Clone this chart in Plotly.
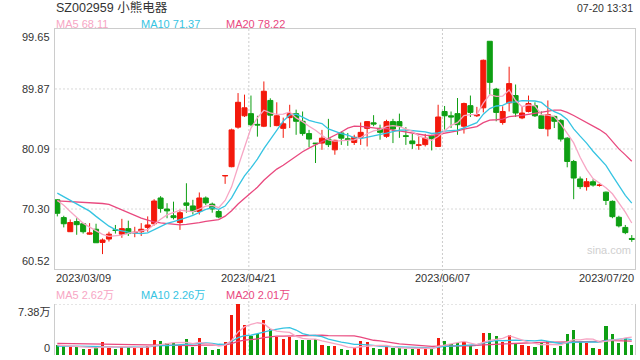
import plotly.graph_objects as go
import pandas as pd

# ---------------- data ----------------
opens = [71.8, 68.9, 66.6, 68.25, 67.9, 66.2, 67.0, 64.85, 65.4, 66.9,
         66.2, 67.1, 66.4, 66.6, 67.3, 67.9, 72.1, 70.3, 69.2, 68.1,
         71.3, 70.8, 69.9, 72.1, 71.1, 69.9, 75.7, 77.2, 83.65, 85.5,
         85.85, 84.1, 83.8, 88.0, 83.9, 83.45, 85.2, 85.85, 84.6, 82.6,
         81.05, 81.05, 81.7, 79.95, 82.7, 81.75, 81.15, 82.0, 83.45, 84.35,
         83.45, 82.15, 84.55, 84.55, 82.25, 81.4, 80.7, 80.8, 82.25, 80.5,
         86.2, 85.5, 85.85, 83.8, 87.15, 85.5, 86.8, 97.65, 89.85, 84.4,
         87.6, 88.8, 85.15, 86.2, 87.15, 85.5, 83.35, 85.4, 84.75, 81.85,
         78.05, 75.2, 73.95, 74.75, 74.15, 73.05, 71.55, 68.95, 67.3, 65.5]
highs = [71.9, 69.2, 68.6, 68.8, 67.9, 68.0, 67.9, 65.5, 66.6, 67.7,
         68.7, 68.4, 67.4, 68.0, 69.1, 71.9, 72.4, 71.25, 71.5, 70.2,
         74.5, 71.8, 73.0, 72.35, 71.35, 70.15, 75.75, 83.4, 89.2, 88.95,
         88.8, 85.5, 91.1, 88.35, 87.7, 85.2, 87.3, 86.5, 86.2, 83.2,
         81.05, 83.2, 85.0, 81.6, 82.95, 82.7, 82.4, 84.4, 84.65, 85.6,
         84.05, 84.85, 85.0, 85.85, 83.65, 82.55, 82.15, 82.55, 82.4, 87.3,
         87.1, 86.2, 88.4, 87.65, 88.8, 86.95, 94.67, 97.65, 90.05, 87.05,
         93.5, 90.6, 86.95, 88.8, 87.7, 86.2, 88.0, 85.5, 84.95, 82.0,
         78.3, 75.6, 75.35, 75.15, 74.4, 73.15, 71.7, 69.2, 67.7, 66.05]
lows = [69.1, 67.3, 66.6, 66.1, 66.3, 66.1, 64.8, 62.95, 65.0, 66.3,
        65.6, 65.9, 65.7, 65.9, 66.6, 67.6, 69.7, 68.8, 68.6, 66.9,
        69.7, 69.4, 69.4, 70.95, 69.7, 68.8, 74.4, 77.1, 83.4, 85.3,
        83.8, 82.1, 83.65, 83.65, 83.8, 81.9, 83.5, 82.4, 82.25, 80.4,
        77.8, 79.95, 80.4, 79.15, 80.75, 80.6, 80.75, 80.75, 80.5, 83.8,
        81.6, 81.9, 81.05, 81.9, 80.75, 80.1, 79.95, 80.5, 79.85, 80.4,
        83.25, 83.5, 82.4, 82.6, 85.3, 85.3, 86.05, 88.95, 84.6, 84.05,
        86.2, 85.3, 84.95, 86.05, 85.3, 83.35, 82.15, 83.5, 81.3, 77.1,
        71.9, 73.55, 73.3, 73.95, 73.95, 70.95, 68.8, 67.3, 66.2, 64.95]
closes = [69.6, 67.9, 68.1, 67.75, 66.6, 66.4, 64.8, 65.25, 66.2, 66.8,
          67.1, 66.3, 66.5, 67.0, 67.7, 71.6, 70.4, 70.0, 68.9, 69.7,
          70.9, 69.9, 72.1, 71.3, 70.3, 69.0, 75.75, 83.2, 87.7, 86.8,
          84.05, 84.0, 89.5, 85.6, 85.5, 84.2, 85.85, 84.6, 82.6, 81.7,
          80.95, 81.85, 80.8, 81.5, 81.85, 81.65, 82.0, 82.8, 84.55, 84.15,
          82.8, 84.55, 83.35, 83.8, 82.15, 80.95, 80.75, 81.85, 81.8, 85.3,
          85.5, 85.3, 84.05, 87.5, 86.05, 85.7, 94.55, 90.95, 86.05, 86.2,
          90.75, 85.95, 85.95, 87.5, 85.5, 83.45, 85.7, 84.6, 81.7, 78.05,
          75.35, 73.95, 74.75, 74.2, 74.2, 71.7, 69.05, 67.55, 66.45, 65.35]
volumes = [1.45, 1.40, 1.11, 1.20, 0.87, 0.87, 1.11, 1.88, 1.06, 0.87,
           1.20, 1.11, 1.11, 1.11, 1.30, 2.17, 2.02, 1.69, 1.78, 1.35,
           2.31, 1.16, 2.46, 1.16, 0.72, 0.87, 1.93, 5.78, 7.38, 4.34,
           2.80, 3.04, 5.06, 3.71, 2.65, 2.31, 2.65, 2.17, 2.17, 2.17,
           2.27, 1.45, 1.30, 1.30, 0.87, 0.72, 1.06, 2.02, 1.88, 1.06,
           0.87, 1.20, 1.06, 1.06, 0.87, 0.87, 0.96, 0.96, 1.06, 2.46,
           2.02, 1.59, 1.78, 1.93, 1.30, 0.87, 3.23, 3.23, 2.75, 1.93,
           2.89, 1.69, 1.45, 1.30, 1.11, 1.88, 2.02, 1.06, 1.30, 3.04,
           3.62, 1.93, 1.78, 1.06, 0.87, 4.25, 3.04, 1.78, 2.45, 1.45]

# moving-average values at the left edge (their windows start before the chart)
ma5_head = [71.7, 70.9, 69.9, 69.0]
ma10_head = [72.9, 72.3, 71.75, 71.15, 70.55, 69.95, 69.1, 68.3, 67.5]
ma20_head = [71.63, 71.58, 71.52, 71.45, 71.38, 71.33, 71.28, 71.2, 71.05, 70.6,
             70.2, 69.8, 69.3, 68.8, 68.5, 68.2, 68.05, 67.95, 67.87]
vma5_head = [1.45, 1.40, 1.35, 1.30]
vma10_head = [1.30, 1.28, 1.26, 1.24, 1.22, 1.20, 1.20, 1.20, 1.19]
vma20_head = [1.69, 1.67, 1.66, 1.64, 1.62, 1.60, 1.58, 1.56, 1.54, 1.52,
              1.50, 1.48, 1.46, 1.44, 1.42, 1.40, 1.39, 1.37, 1.35]

date_labels = ["2023/03/09", "2023/04/21", "2023/06/07", "2023/07/20"]
date_label_idx = [0, 30, 60, 89]
price_ticks = [99.65, 89.87, 80.09, 70.30, 60.52]
vol_top = 7.38
title_text = "SZ002959 小熊电器"
time_text = "07-20 13:31"
price_legend = [("MA5 68.11", "ma5"), ("MA10 71.37", "ma10"), ("MA20 78.22", "ma20")]
vol_legend = [("MA5 2.62万", "ma5"), ("MA10 2.26万", "ma10"), ("MA20 2.01万", "ma20")]

# ---------------- styles ----------------
RED = "#f3190c"
GREEN = "#0e9f13"
COL = {"ma5": "#f7a6c4", "ma10": "#36c4e2", "ma20": "#e9497f"}
TXT = "#333333"
BORDER = "#cccccc"
GRID = "#d8d8d8"
FONT = "Liberation Sans, Arial, Noto Sans CJK SC, sans-serif"

n = len(closes)
idx = list(range(n))


def ma(values, w, head):
    s = pd.Series(values).rolling(w).mean().tolist()
    return head + s[len(head):]


ma5 = ma(closes, 5, ma5_head)
ma10 = ma(closes, 10, ma10_head)
ma20 = ma(closes, 20, ma20_head)
vma5 = ma(volumes, 5, vma5_head)
vma10 = ma(volumes, 10, vma10_head)
vma20 = ma(volumes, 20, vma20_head)
vol_colors = [RED if c >= o else GREEN for o, c in zip(opens, closes)]

fig = go.Figure()
fig.add_trace(go.Candlestick(
    x=idx, open=opens, high=highs, low=lows, close=closes,
    increasing=dict(line=dict(color=RED, width=1), fillcolor=RED),
    decreasing=dict(line=dict(color=GREEN, width=1), fillcolor=GREEN),
    whiskerwidth=0, xaxis="x", yaxis="y", hoverinfo="skip"))
for key, vals in (("ma20", ma20), ("ma10", ma10), ("ma5", ma5)):
    fig.add_trace(go.Scatter(x=idx, y=vals, mode="lines",
                             line=dict(color=COL[key], width=1.3),
                             xaxis="x", yaxis="y", hoverinfo="skip"))

fig.add_trace(go.Bar(x=idx, y=volumes, marker=dict(color=vol_colors, line=dict(width=0)),
                     width=0.5, xaxis="x2", yaxis="y2", hoverinfo="skip"))
for key, vals in (("ma20", vma20), ("ma10", vma10), ("ma5", vma5)):
    fig.add_trace(go.Scatter(x=idx, y=vals, mode="lines",
                             line=dict(color=COL[key], width=1.3),
                             xaxis="x2", yaxis="y2", hoverinfo="skip"))

# ---------------- layout geometry ----------------
L, R, T, B = 55, 5, 29, 5
W, H = 640, 360
ph = H - T - B
price_dom = [(H - B - 269) / ph, 1.0]
vol_dom = [0.0, (H - B - 304) / ph]
xr = [-0.36, n - 0.5]


def py(pix):
    return (H - B - pix) / ph


def px(pix):
    return (pix - L) / (W - L - R)


shapes = []
for v in price_ticks[1:-1]:
    shapes.append(dict(type="line", xref="paper", x0=0, x1=1, yref="y", y0=v, y1=v,
                       line=dict(color=GRID, width=1, dash="2px,2px"), layer="below"))
for i in date_label_idx[1:3]:
    shapes.append(dict(type="line", xref="x", x0=i - 0.33, x1=i - 0.33, yref="paper",
                       y0=vol_dom[0], y1=1, line=dict(color=BORDER, width=1, dash="2px,2px"),
                       layer="below"))
shapes.append(dict(type="line", xref="paper", x0=0, x1=1, yref="y2", y0=vol_top, y1=vol_top,
                   line=dict(color=BORDER, width=1, dash="2px,2px"), layer="below"))

ann = []


def add_text(text, x, y, xanchor="left", yanchor="middle", size=11, color=TXT,
             xref="paper", yref="paper", xshift=0, yshift=0):
    ann.append(dict(text=text, x=x, y=y, xref=xref, yref=yref, xanchor=xanchor,
                    yanchor=yanchor, showarrow=False, xshift=xshift, yshift=yshift,
                    font=dict(family=FONT, size=size, color=color), borderpad=0))


add_text(title_text, 0, py(8), size=12.5)
add_text(time_text, 1, py(8), xanchor="right", size=10.5, xshift=-1)
for (t, k), xp in zip(price_legend, (55, 140, 225)):
    add_text(t, px(xp), py(24), color=COL[k])
for (t, k), xp in zip(vol_legend, (55, 140, 225)):
    add_text(t, px(xp), py(295), color=COL[k])

for j, v in enumerate(price_ticks):
    ya = "top" if j == 0 else ("bottom" if j == len(price_ticks) - 1 else "middle")
    ys = -1 if j == 0 else (1 if j == len(price_ticks) - 1 else 0)
    add_text(f"{v:.2f}", 0, v, xanchor="right", yanchor=ya, yref="y", xshift=-4, yshift=ys)
add_text(f"{vol_top:.2f}万", 0, vol_top, xanchor="right", yanchor="top", yref="y2", xshift=-4, yshift=-1)
add_text("0", 0, 0, xanchor="right", yanchor="bottom", yref="y2", xshift=-4, yshift=0)

for k, (lab, i) in enumerate(zip(date_labels, date_label_idx)):
    if k == 0:
        add_text(lab, 0, price_dom[0], yanchor="top", yshift=-2)
    elif k == len(date_labels) - 1:
        add_text(lab, 1, price_dom[0], xanchor="right", yanchor="top", yshift=-2)
    else:
        add_text(lab, i - 0.33, price_dom[0], xanchor="center", yanchor="top", xref="x", yshift=-2)

add_text("sina.com", px(632), py(250), xanchor="right", size=11, color="#cfcfcf")

axis_common = dict(showgrid=False, zeroline=False, showticklabels=False, ticks="",
                   fixedrange=True)
fig.update_layout(
    width=W, height=H, autosize=False,
    margin=dict(l=L, r=R, t=T, b=B, pad=0),
    paper_bgcolor="white", plot_bgcolor="white",
    showlegend=False, boxgap=0.22, boxgroupgap=0.0, bargap=0,
    xaxis=dict(domain=[0, 1], range=xr, anchor="y", showline=True, linecolor=BORDER,
               linewidth=1, mirror=True, rangeslider=dict(visible=False), **axis_common),
    yaxis=dict(domain=price_dom, range=[price_ticks[-1], price_ticks[0]], anchor="x",
               showline=True, linecolor=BORDER, linewidth=1, mirror=True, **axis_common),
    xaxis2=dict(domain=[0, 1], range=xr, anchor="y2", showline=False, matches="x",
                **axis_common),
    yaxis2=dict(domain=vol_dom, range=[0, vol_top], anchor="x2", showline=True,
                linecolor=BORDER, linewidth=1, mirror=True, **axis_common),
    shapes=shapes, annotations=ann,
)

fig.write_html("out.html", include_plotlyjs=True, full_html=True,
               config=dict(displayModeBar=False, staticPlot=True))
